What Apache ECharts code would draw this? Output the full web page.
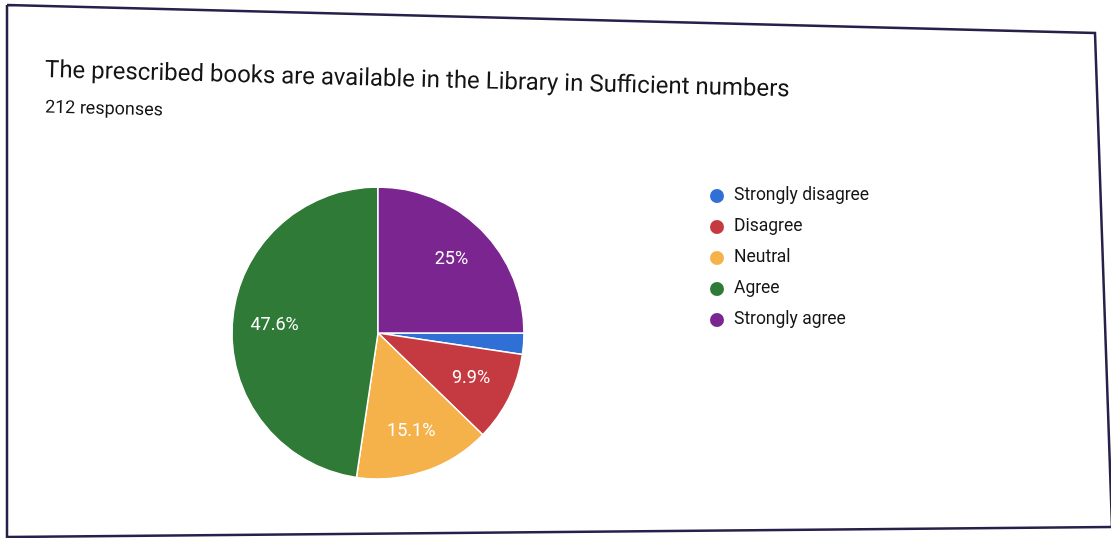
<!DOCTYPE html>
<html>
<head>
<meta charset="utf-8">
<script src="https://cdn.jsdelivr.net/npm/echarts@6/dist/echarts.min.js"></script>
<style>
html,body{margin:0;padding:0;background:#fff;}
#chart{width:1111px;height:538px;}
</style>
</head>
<body>
<div id="chart"></div>
<script>
var titleText = 'The prescribed books are available in the Library in Sufficient numbers';
var subtitleText = '212 responses';
var categories = ['Strongly disagree', 'Disagree', 'Neutral', 'Agree', 'Strongly agree'];
var counts = [5, 21, 32, 101, 53];
var colors = ['#2f6fd6', '#c43a40', '#f6b24a', '#2e7a36', '#7a2590'];

var data = categories.map(function (c, i) {
  return { name: c, value: counts[i], itemStyle: { color: colors[i] } };
});

var center = [378, 333];
var R = 146;
var rot = -0.026;
var font = 'Roboto, "Liberation Sans", Arial, sans-serif';

var chart = echarts.init(document.getElementById('chart'));
chart.setOption({
  backgroundColor: '#ffffff',
  animation: false,
  graphic: [
    {
      type: 'polyline',
      shape: { points: [[7, 5], [1095, 33], [1112, 527], [7, 537], [7, 5]] },
      style: { stroke: '#2a1f4a', lineWidth: 2.5, fill: null },
      silent: true
    },
    {
      type: 'text', x: 45, y: 71, rotation: rot,
      style: { text: titleText, fontSize: 24, fill: '#141414', fontFamily: font, verticalAlign: 'middle' }
    },
    {
      type: 'text', x: 45, y: 108, rotation: rot,
      style: { text: subtitleText, fontSize: 18, fill: '#141414', fontFamily: font, verticalAlign: 'middle' }
    }
  ],
  legend: {
    orient: 'vertical',
    left: 703,
    top: 182,
    icon: 'circle',
    itemWidth: 16,
    itemHeight: 16,
    itemGap: 13,
    data: categories,
    textStyle: { fontSize: 17.5, lineHeight: 16, color: '#141414', fontFamily: font, padding: [0, 0, 0, 4] }
  },
  series: [
    {
      type: 'pie',
      center: center,
      radius: [0, R],
      startAngle: 0,
      clockwise: true,
      data: data,
      label: { show: false },
      labelLine: { show: false },
      itemStyle: { borderColor: '#ffffff', borderWidth: 1.5 },
      emphasis: { disabled: true }
    },
    {
      type: 'pie',
      center: center,
      radius: [R * 0.38, R],
      startAngle: 0,
      clockwise: true,
      silent: true,
      percentPrecision: 1,
      data: data.map(function (d) { return { name: d.name, value: d.value, itemStyle: { color: 'rgba(0,0,0,0)' } }; }),
      itemStyle: { color: 'rgba(0,0,0,0)' },
      label: {
        show: true,
        position: 'inside',
        color: '#ffffff',
        fontSize: 18,
        fontFamily: font,
        formatter: function (p) { return p.percent < 5 ? '' : p.percent + '%'; }
      },
      labelLine: { show: false },
      emphasis: { disabled: true }
    }
  ]
});
</script>
</body>
</html>
